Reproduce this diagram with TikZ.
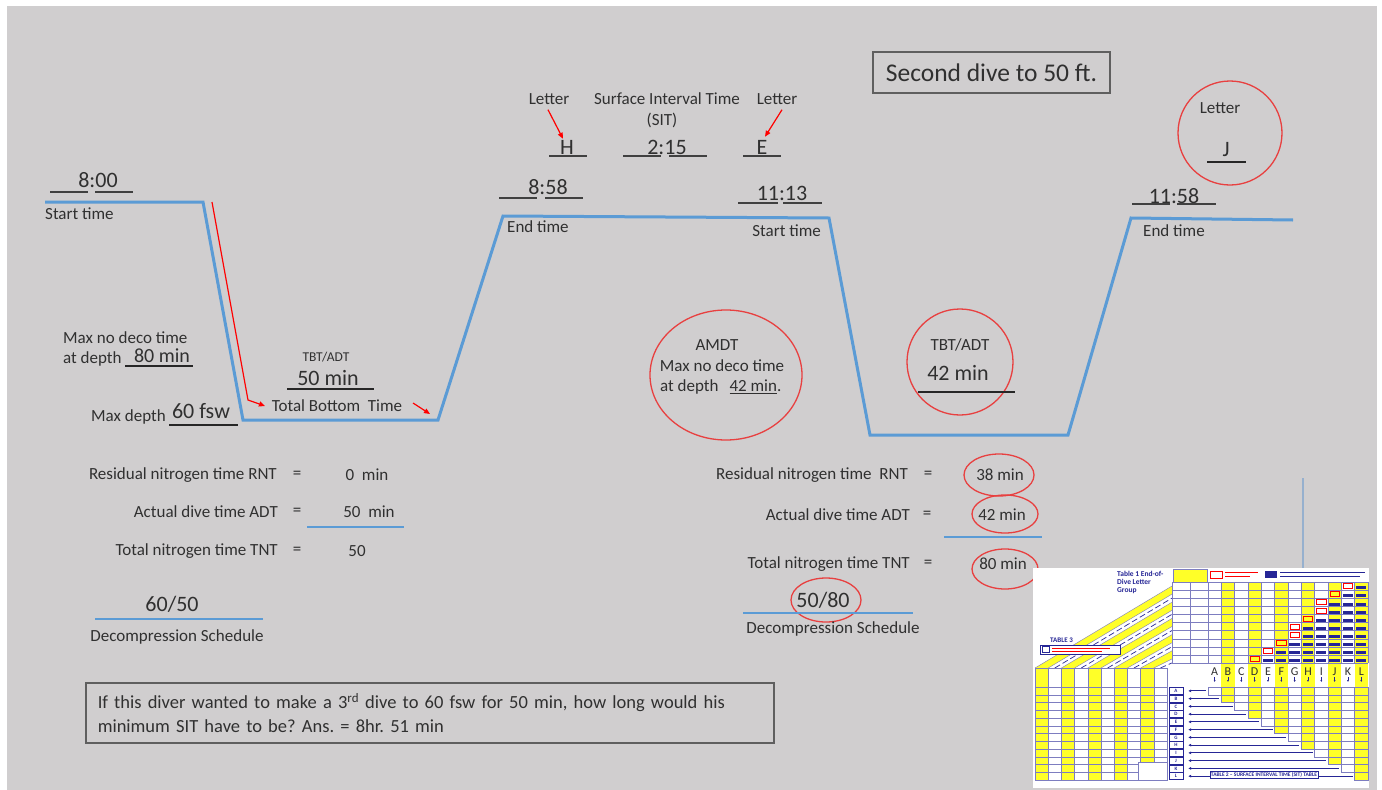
\documentclass[tikz,border=0pt]{standalone}
\usepackage{fontspec}
\setmainfont{Carlito}
\frenchspacing
\definecolor{slidegray}{RGB}{208,206,207}
\definecolor{profblue}{RGB}{91,155,213}
\definecolor{inkgray}{RGB}{48,48,48}
\definecolor{markred}{RGB}{232,64,64}
\definecolor{boxgray}{RGB}{95,95,95}
\definecolor{stemblue}{RGB}{150,176,206}
\definecolor{tblnavy}{RGB}{38,38,150}
\definecolor{tblyellow}{RGB}{255,255,40}
\usetikzlibrary{arrows.meta,positioning,shapes.geometric}

\begin{document}
\begin{tikzpicture}[x=1pt,y=-1pt,
  txt/.style={font=\fontsize{17}{20}\selectfont,text=inkgray,inner sep=0pt},
  small/.style={font=\fontsize{13.5}{15}\selectfont,text=inkgray,inner sep=0pt},
  big/.style={font=\fontsize{22}{26}\selectfont,text=inkgray,inner sep=0pt},
  uline/.style={draw=black!85,line width=1.3pt},
  tline/.style={draw=black!75,line width=2pt},
  prof/.style={draw=profblue,line width=3pt,line join=miter},
  ring/.style={draw=markred,line width=1.3pt},
  redarr/.style={draw=red,line width=1.2pt,-{Triangle[length=6pt,width=5pt]}},
  bluebar/.style={draw=profblue,line width=2.5pt},
  tgrid/.style={draw=tblnavy!60,line width=0.4pt},
  tbllet/.style={font=\fontsize{12}{12}\selectfont,text=inkgray,inner sep=0pt},
  tblrow/.style={draw=tblnavy,fill=white,font=\bfseries\fontsize{5}{5}\selectfont,text=tblnavy,inner sep=0pt,minimum width=14pt,minimum height=7pt}]
\useasboundingbox (0,0) rectangle (1382,790);
\fill[white] (0,0) rectangle (1382,790);
\fill[slidegray] (7,6) rectangle (1377,790);

% dive profile
\draw[prof] (45,202) -- (203,202) -- (243,420) -- (438,420) -- (503,216) -- (829,218)
  -- (870,435) -- (1068,435) -- (1131,218) -- (1293,220);

% first dive
\node[big] (t800) at (98,180) {8:00};
\draw[tline] (50,192) -- (88,192) (95,192) -- (133,192);
\node[txt,anchor=west] (st1) at (45,214) {Start time};
\coordinate (dn1) at (212,202);
\coordinate (dn2) at (248,400);
\coordinate (dn3) at (265,406);
\draw[redarr] (dn1) -- (dn2) -- (dn3);
\node[txt,anchor=west] (mnd1) at (63,338) {Max no deco time};
\node[txt,anchor=west] (dep1) at (63,359) {at depth};
\node[font=\fontsize{20}{24}\selectfont,text=inkgray,inner sep=0pt] (nd80) at (162,355.5) {80 min};
\draw[uline] (125,366) -- (193,366);
\node[txt,anchor=west] (md) at (91,417) {Max depth};
\node[big] (d60) at (201,411) {60 fsw};
\draw[uline] (169,425) -- (238,425);
\node[small] (tbt1) at (326,357) {TBT/ADT};
\node[big] (b50) at (328,378) {50 min};
\draw[uline] (287,389) -- (374,389);
\node[txt] (tbtl) at (337,406) {Total Bottom\ \ Time};
\coordinate (bt1) at (413,403);
\coordinate (bt2) at (430,414);
\draw[redarr] (bt1) -- (bt2);

% surface interval
\node[txt] (lt1) at (549,99) {Letter};
\node[big] (hh) at (567,147) {H};
\draw[tline] (549,156) -- (587,156);
\draw[redarr] ([xshift=-1pt,yshift=-5pt]lt1.south) -- ([xshift=-4pt,yshift=1pt]hh.north);
\node[txt] (sit) at (667,99) {Surface Interval Time};
\node[txt] (sit2) at (662,120) {(SIT)};
\node[big] (s215) at (667,147) {2:15};
\draw[tline] (623,156) -- (661,156) (669,156) -- (707,156);
\node[txt] (lt2) at (777,99) {Letter};
\node[big] (ee) at (762,147) {E};
\draw[tline] (743,156) -- (781,156);
\draw[redarr] ([xshift=5pt,yshift=-5pt]lt2.south) -- ([xshift=3pt,yshift=3pt]ee.north);
\node[big] (t858) at (548,187) {8:58};
\draw[tline] (499,198) -- (537,198) (545,198) -- (583,198);
\node[big] (t1113) at (782,193) {11:13};
\draw[tline] (738,203) -- (778,203) (783,203) -- (822,203);
\node[txt,anchor=west] (et1) at (507,227) {End time};
\node[txt,anchor=east] (st2) at (821,231) {Start time};

% second dive
\node[draw=boxgray,line width=1.5pt,font=\fontsize{25.5}{28}\selectfont,text=inkgray,
  minimum width=237pt,minimum height=41pt,inner sep=0pt] (title) at (991.5,72.5) {Second dive to 50 ft.};
\draw[ring] (1230,133) circle[radius=52pt];
\node[txt] (lt3) at (1220,108) {Letter};
\node[big] (jj) at (1226,150) {J};
\draw[uline] (1207,162) -- (1246,162);
\node[big] (t1158) at (1174,196) {11:58};
\draw[tline] (1132,204) -- (1170,204) (1177,204) -- (1216,204);
\node[txt,anchor=west] (et2) at (1143,231) {End time};

\draw[ring] (726,375) ellipse[x radius=76pt,y radius=65pt];
\node[txt] (amdt) at (717,345) {AMDT};
\node[txt] (amnd) at (722,366) {Max no deco time};
\node[txt,anchor=west] (amdep) at (660,387) {at depth\hspace{11pt}\underline{42 min}.};
\draw[ring] (960,362) circle[radius=53pt];
\node[txt] (tbt2) at (960,345) {TBT/ADT};
\node[big] (b42) at (958,373) {42 min};
\draw[uline] (918,392) -- (1015,392);

% nitrogen sums, first dive
\node[txt,anchor=east] (rnt1) at (277,475) {Residual nitrogen time RNT};
\node[txt] (eq1) at (297,475) {=};
\node[txt] (v0) at (367,475) {0\ \ min};
\node[txt,anchor=east] (adt1) at (278,512) {Actual dive time ADT};
\node[txt] (eq2) at (297,512) {=};
\node[txt] (v50) at (369,512) {50\ \ min};
\draw[bluebar] (307,527) -- (404,527);
\node[txt,anchor=east] (tnt1) at (278,551) {Total nitrogen time TNT};
\node[txt] (eq3) at (297,551) {=};
\node[txt] (v50b) at (357,551) {50};
\node[big] (s6050) at (172,604) {60/50};
\draw[bluebar] (95,619) -- (263,619);
\node[txt] (dec1) at (177,637) {Decompression Schedule};

% nitrogen sums, second dive
\node[txt,anchor=east] (rnt2) at (908,475) {Residual nitrogen time\ \ RNT};
\node[txt] (eq4) at (928,475) {=};
\node[txt] (v38) at (1000,475) {38 min};
\draw[ring] (999,475) ellipse[x radius=35pt,y radius=21pt];
\node[txt,anchor=east] (adt2) at (910,515) {Actual dive time ADT};
\node[txt] (eq5) at (927,515) {=};
\node[txt] (v42) at (1002,515) {42 min};
\draw[ring] (1005,514) ellipse[x radius=33pt,y radius=19pt];
\draw[bluebar] (944,537) -- (1042,537);
\node[txt,anchor=east] (tnt2) at (910,564) {Total nitrogen time TNT};
\node[txt] (eq6) at (928,564) {=};
\node[txt] (v80) at (1003,564) {80 min};
\draw[ring] (1005,569) ellipse[x radius=33pt,y radius=20pt];
\node[big] (s5080) at (823,600) {50/80};
\draw[ring] (826,600) ellipse[x radius=35pt,y radius=22pt];
\draw[bluebar] (743,613) -- (913,613);
\node[txt] (dec2) at (833,629) {Decompression Schedule};

% question
\node[draw=boxgray,line width=1.5pt,anchor=north west,minimum width=688pt,minimum height=60pt,
  text width=664pt,inner xsep=12pt,align=left,font=\fontsize{18.5}{24}\selectfont,text=inkgray] (quest) at (85,682)
  {If this diver wanted to make a 3\textsuperscript{rd} dive to 60 fsw for 50 min, how long would his\\
   minimum SIT have to be? Ans. = 8hr. 51 min};

% dive table picture
\draw[stemblue,line width=1.3pt] (1303,478) -- (1303,570);
\fill[white] (1033,568) rectangle (1369,788);
\foreach \k in {0,2,4,6,8}
  \fill[tblyellow] ({1035+13.2*\k},668) -- ({1048.2+13.2*\k},668) -- (1172,{594.1+8.1*\k}) -- (1172,{586+8.1*\k}) -- cycle;
\foreach \k in {0,...,9}
  \draw[tgrid] ({1035+13.2*\k},668) -- (1172,{586+8.1*\k});
\foreach \k in {1,3,5,7,9}
  \draw[tblnavy,line width=0.7pt,dash pattern=on 6pt off 3pt] ({1041.6+13.2*\k},668) -- (1172,{590+8.1*\k});
\foreach \k in {0,2,4,6,8}
  \fill[tblyellow] ({1035+13.2*\k},668) rectangle ++(13.2,112);
\foreach \k in {0,...,10}
  \draw[tgrid] ({1035+13.2*\k},668) -- ++(0,112);
\draw[tgrid] (1035,668) -- (1167,668);
\foreach \j in {0,...,12}
  \draw[tgrid] (1035,{687+7.75*\j}) -- (1167,{687+7.75*\j});
\draw[tgrid,fill=white] (1138,762) rectangle (1167,780);
\node[font=\bfseries\fontsize{7.5}{8}\selectfont,text=tblnavy,anchor=north west,align=left,inner sep=0pt]
  (t1title) at (1117,571) {Table 1 End-of-\\Dive Letter\\Group};
\node[font=\bfseries\fontsize{7}{7}\selectfont,text=tblnavy,anchor=west,inner sep=0pt] (t3title) at (1050,640) {TABLE 3};
\draw[tblnavy,fill=white,line width=0.5pt] (1040,645) rectangle (1120,654);
\draw[red,line width=0.7pt] (1052,648) -- (1110,648) (1052,651.5) -- (1102,651.5);
\draw[tblnavy,line width=0.5pt] (1042,646.5) rectangle (1049,652.5);

% upper grid
\fill[tblyellow] (1173,569) rectangle (1207,582);
\draw[tgrid] (1173,569) rectangle (1207,582);
\foreach \i in {1,3,5,7,9,11}
  \fill[tblyellow] ({1208+13.33*\i},582) rectangle ++(13.33,105);
\foreach \r in {0,...,10}
  \draw[tgrid] (1172,{582+8.1*\r}) -- (1368,{582+8.1*\r});
\foreach \i in {0,...,12}
  \draw[tgrid] ({1208+13.33*\i},582) -- ++(0,81);
\draw[tgrid] (1172,582) -- (1172,663) (1190,582) -- (1190,663);
\foreach \r/\c in {0/11,1/10,2/9,3/9,4/8,5/7,6/7,7/6,8/5,9/4}{
  \foreach \i in {\c,...,11}
    \fill[tblnavy] ({1208+13.33*\i+1.5},{582+8.1*\r+4.3}) rectangle ++(10.3,3);
  \draw[red,line width=0.6pt] ({1208+13.33*\c-11.5},{582+8.1*\r+1.5}) rectangle ++(9.5,5);
}
\draw[red,line width=0.7pt] (1210,571) rectangle (1222,578);
\draw[red,line width=0.6pt] (1225,572.5) -- (1258,572.5) (1225,576) -- (1250,576);
\fill[tblnavy] (1265,571) rectangle (1277,578);
\draw[tblnavy,line width=0.6pt] (1280,572.5) -- (1365,572.5) (1280,576) -- (1360,576);

% letter groups
\foreach \l [count=\i from 0] in {A,B,C,D,E,F,G,H,I,J,K,L}{
  \node[tbllet] (let\l) at ({1208+13.33*(\i+0.5)},672) {\l};
  \draw[tblnavy,line width=0.6pt,-{Latex[length=2pt,width=2pt]}] ([yshift=-1pt]let\l.south) -- ++(0,5);
}

% staircase
\foreach \i in {1,3,5,7,9,11}
  \fill[tblyellow] ({1208+13.33*\i},687) rectangle ++(13.33,{7.75*(\i+1)});
\foreach \i in {0,...,11}{
  \draw[tgrid] ({1208+13.33*\i},687) rectangle ++(13.33,{7.75*(\i+1)});
  \foreach \j in {0,...,\i}
    \draw[tgrid] ({1208+13.33*\i},{687+7.75*\j}) -- ++(13.33,0);
}
\foreach \l [count=\j from 0] in {A,B,C,D,E,F,G,H,I,J,K,L}{
  \node[tblrow] (row\l) at (1176,{687+7.75*(\j+0.5)}) {\l};
  \draw[tblnavy,line width=1pt,{Latex[length=3pt,width=3pt]}-] ([xshift=5pt]row\l.east) -- ({1206+13.33*\j},{687+7.75*(\j+0.5)});
}
\node[draw=tblnavy,fill=white,font=\bfseries\fontsize{5.5}{6}\selectfont,text=tblnavy,inner sep=1pt]
  (t2title) at (1264,775) {TABLE 2 -- SURFACE INTERVAL TIME (SIT) TABLE};
\end{tikzpicture}
\end{document}
